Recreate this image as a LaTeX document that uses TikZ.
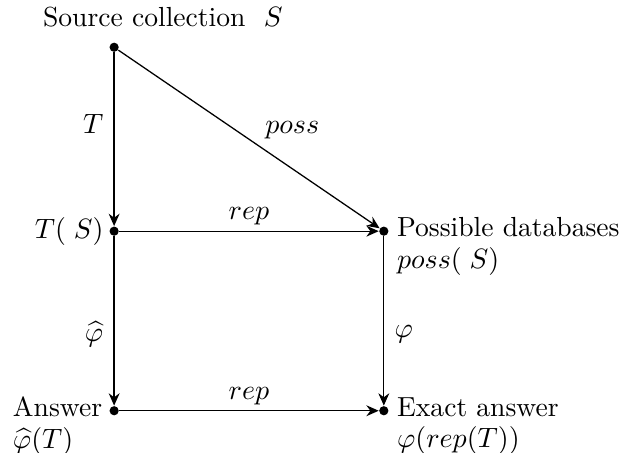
\documentclass[tikz,border=0pt]{standalone}
\usepackage{amsmath,amssymb}
\usetikzlibrary{arrows.meta,positioning,calc}
\tikzset{
  dot/.style  ={circle, fill=black, inner sep=0pt, minimum size=3.6pt},
  txt/.style  ={align=left, inner sep=1pt},
  arr/.style  ={-{Stealth[length=1.7mm,width=1.5mm]}, line width=0.5pt},
  lab/.style  ={inner sep=2pt},
  every node/.style={font=\fontsize{10.8}{12.4}\selectfont},
}

\begin{document}
\begin{tikzpicture}[x=1cm,y=1cm]
  \useasboundingbox (0,0) rectangle (8.57,-6.23);
  \node[dot] (s) at (1.57,-0.65) {};
  \node[dot] (t) at (1.57,-3.18) {};
  \node[dot] (p) at (5.28,-3.18) {};
  \node[dot] (a) at (1.57,-5.65) {};
  \node[dot] (e) at (5.28,-5.65) {};

  \node[txt, anchor=base] (stxt) at (2.24,-0.36) {Source collection\ \ $S$};
  \node[txt, left=1pt of t] (ttxt) {$T(\;S)$};
  \node[txt, right=2pt of p, yshift=-0.21cm] (ptxt)
    {Possible databases\\$poss(\;S)$};
  \node[txt, left=1.5pt of a, yshift=-0.21cm] (atxt)
    {Answer\\$\widehat{\varphi}(T)$};
  \node[txt, right=2pt of e, yshift=-0.21cm] (etxt)
    {Exact answer\\$\varphi(rep(T))$};

  \draw[arr] (s) -- node[lab, left=2pt, pos=0.41] {$T$} (t);
  \draw[arr] (s) -- node[lab, above right=2pt and -2pt, pos=0.56] {$poss$} (p);
  \draw[arr] (t) -- node[lab, above] {$rep$} (p);
  \draw[arr] (t) -- node[lab, left=2pt, pos=0.58] {$\widehat{\varphi}$} (a);
  \draw[arr] (p) -- node[lab, right=2pt, pos=0.58] {$\varphi$} (e);
  \draw[arr] (a) -- node[lab, above] {$rep$} (e);
\end{tikzpicture}
\end{document}
